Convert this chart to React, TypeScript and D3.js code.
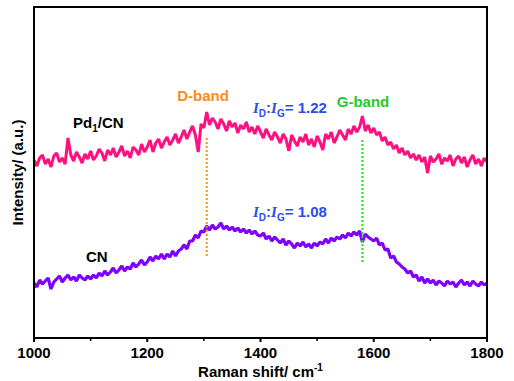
import React from 'react';
import * as d3 from 'd3';

// Raman shift grid (cm-1), 5 cm-1 step
const shift = d3.range(1000, 1801, 5);

// Pd1/CN intensity (a.u.)
const pdcn = [
  178, 172, 180, 183, 174, 179, 171, 182, 185, 176, 180, 174, 200, 183, 177, 186, 181, 175, 184, 179,
  187, 178, 182, 189, 185, 177, 188, 183, 190, 181, 186, 192, 182, 187, 180, 191, 188, 183, 194, 186,
  191, 198, 186, 195, 199, 190, 196, 201, 193, 198, 204, 195, 201, 208, 199, 206, 212, 203, 186, 214,
  210, 226, 213, 220, 216, 209, 219, 214, 207, 217, 211, 215, 205, 213, 209, 216, 206, 211, 204, 212,
  206, 200, 209, 203, 198, 206, 201, 195, 204, 199, 187, 203, 197, 192, 201, 196, 204, 193, 199, 191,
  202, 196, 188, 204, 199, 206, 195, 201, 208, 203, 198, 209, 204, 212, 206, 211, 222, 207, 213, 205,
  210, 203, 206, 197, 201, 193, 196, 189, 193, 185, 190, 183, 187, 180, 184, 178, 183, 176, 181, 165,
  182, 176, 179, 184, 174, 180, 177, 183, 172, 179, 182, 175, 181, 171, 178, 183, 174, 179, 172, 180,
  176,
];

// CN intensity (a.u.)
const cn = [
  55, 51, 58, 54, 57, 60, 49, 56, 59, 62, 56, 60, 63, 58, 61, 57, 63, 60, 58, 62,
  59, 63, 60, 65, 62, 67, 63, 66, 70, 65, 68, 72, 67, 71, 69, 75, 71, 74, 78, 73,
  76, 81, 77, 82, 79, 84, 79, 84, 81, 87, 82, 87, 89, 93, 89, 97, 97, 103, 100, 107,
  106, 112, 108, 113, 109, 111, 115, 109, 112, 108, 111, 107, 110, 106, 109, 105, 108, 104, 107, 103,
  102, 105, 99, 102, 97, 101, 98, 95, 99, 93, 97, 94, 90, 95, 92, 96, 91, 94, 90, 95,
  92, 96, 94, 99, 95, 100, 97, 101, 99, 103, 100, 105, 102, 106, 103, 107, 96, 104, 101, 99,
  97, 100, 93, 95, 88, 89, 80, 82, 76, 74, 71, 69, 65, 67, 61, 63, 57, 61, 55, 59,
  55, 58, 53, 57, 55, 52, 57, 54, 56, 51, 55, 58, 53, 56, 52, 57, 54, 52, 56, 53,
  55,
];

const xTicks = [1000, 1200, 1400, 1600, 1800];
const xMinor = [1100, 1300, 1500, 1700];
const dBand = 1305;
const gBand = 1580;

const W = 514;
const H = 381;
const left = 34;
const right = 487;
const top = 7;
const bottom = 338;

const font = '"Liberation Sans", Arial, sans-serif';

export default function App() {
  const x = d3.scaleLinear().domain([1000, 1800]).range([left, right]);
  const y = d3.scaleLinear().domain([0, 331]).range([bottom, top]);

  const line = (vals: number[]) =>
    d3.line<number>()
      .x((_, i) => x(shift[i]))
      .y(d => y(d))(vals) as string;

  return (
    <svg width={W} height={H} style={{ position: 'absolute', left: 0, top: 0 }}
      fontFamily={font} fontWeight="bold">
      <rect x={0} y={0} width={W} height={H} fill="#fff" />
      <path d={line(pdcn)} fill="none" stroke="#ff1080" strokeWidth={3} strokeLinejoin="bevel" />
      <path d={line(cn)} fill="none" stroke="#8000ff" strokeWidth={3.2} strokeLinejoin="bevel" />

      {/* band markers */}
      <line x1={x(dBand)} x2={x(dBand)} y1={138} y2={258} stroke="#ff8a1a" strokeWidth={2} strokeDasharray="2,2" />
      <line x1={x(gBand)} x2={x(gBand)} y1={140} y2={262} stroke="#2ed82e" strokeWidth={2} strokeDasharray="2,2" />

      {/* frame */}
      <rect x={left} y={top} width={right - left} height={bottom - top} fill="none" stroke="#000" strokeWidth={2} />

      {xTicks.map(t => (
        <g key={t}>
          <line x1={x(t)} x2={x(t)} y1={bottom} y2={bottom + 4} stroke="#000" strokeWidth={2} />
          <text x={x(t)} y={358} textAnchor="middle" fontSize={15} fill="#000">{t}</text>
        </g>
      ))}
      {xMinor.map(t => (
        <line key={t} x1={x(t)} x2={x(t)} y1={bottom} y2={bottom + 3} stroke="#000" strokeWidth={1.5} />
      ))}

      <text x={(left + right) / 2} y={377} textAnchor="middle" fontSize={15} fill="#000">
        Raman shift/ cm<tspan fontSize={10} dy={-6}>-1</tspan>
      </text>
      <text transform={`translate(23,${(top + bottom) / 2})rotate(-90)`} textAnchor="middle" fontSize={15} fill="#000">
        Intensity/ (a.u.)
      </text>

      <text x={203} y={101} textAnchor="middle" fontSize={15} fill="#ff8a1a">D-band</text>
      <text x={363} y={107} textAnchor="middle" fontSize={15} fill="#22cc22">G-band</text>

      <text x={73} y={128} fontSize={15} fill="#000">
        Pd<tspan fontSize={10} dy={4}>1</tspan><tspan dy={-4}>/CN</tspan>
      </text>
      <text x={86} y={262} fontSize={15} fill="#000">CN</text>

      <text x={253} y={113} fontSize={15} fill="#2a4cf0">
        <tspan fontStyle="italic" fontFamily='"Liberation Serif", serif'>I</tspan>
        <tspan fontSize={10} dy={4}>D</tspan>
        <tspan dy={-4}>:</tspan>
        <tspan fontStyle="italic" fontFamily='"Liberation Serif", serif'>I</tspan>
        <tspan fontSize={10} dy={4}>G</tspan>
        <tspan dy={-4}>= 1.22</tspan>
      </text>
      <text x={253} y={217} fontSize={15} fill="#2a4cf0">
        <tspan fontStyle="italic" fontFamily='"Liberation Serif", serif'>I</tspan>
        <tspan fontSize={10} dy={4}>D</tspan>
        <tspan dy={-4}>:</tspan>
        <tspan fontStyle="italic" fontFamily='"Liberation Serif", serif'>I</tspan>
        <tspan fontSize={10} dy={4}>G</tspan>
        <tspan dy={-4}>= 1.08</tspan>
      </text>
    </svg>
  );
}
